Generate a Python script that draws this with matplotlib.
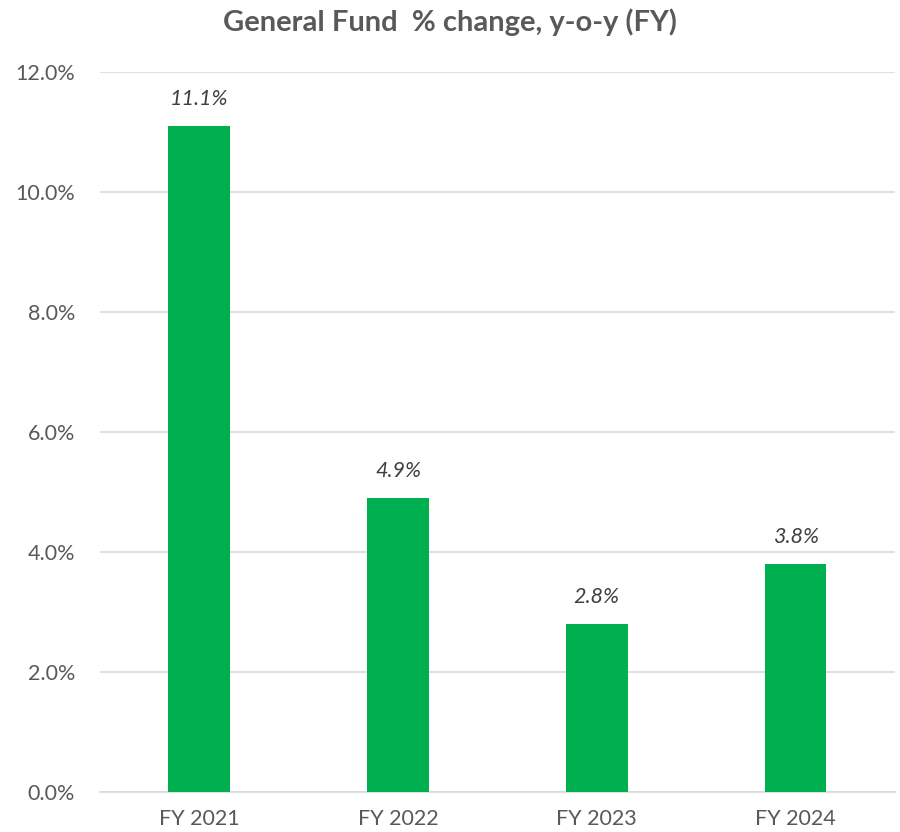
import matplotlib
matplotlib.use("Agg")
import matplotlib.pyplot as plt
from matplotlib.ticker import FuncFormatter, MultipleLocator

categories = ["FY 2021", "FY 2022", "FY 2023", "FY 2024"]
values = [11.1, 4.9, 2.8, 3.8]
labels = ["11.1%", "4.9%", "2.8%", "3.8%"]

plt.rcParams['font.family'] = ['Lato', 'DejaVu Sans']

fig = plt.figure(figsize=(9, 8.32), dpi=100)
ax = fig.add_axes([0.111, 0.0481, 0.8834, 0.8654])

x = range(len(categories))
ax.bar(x, values, width=0.31, color="#00B050", zorder=3)
for xi, v, lab in zip(x, values, labels):
    ax.text(xi, v + 0.28, lab, ha="center", va="bottom", fontsize=15.5,
            style="italic", color="#404040")

ax.set_xlim(-0.5, len(categories) - 0.5)
ax.set_ylim(0, 12)
ax.yaxis.set_major_locator(MultipleLocator(2))
ax.yaxis.set_major_formatter(FuncFormatter(lambda v, p: f"{v:.1f}%"))
ax.set_xticks(list(x))
ax.set_xticklabels(categories)
ax.grid(axis="y", color="#D9D9D9", linewidth=1.2, zorder=0)
for s in ["top", "right", "left"]:
    ax.spines[s].set_visible(False)
ax.spines["bottom"].set_color("#D9D9D9")
ax.spines["bottom"].set_linewidth(1.2)
ax.tick_params(axis="both", length=0, labelsize=15.5, labelcolor="#595959")
ax.tick_params(axis="y", pad=18)
ax.tick_params(axis="x", pad=12)

fig.text(0.5, 0.973, "General Fund  % change, y-o-y (FY)", ha="center", va="center",
         fontsize=21, fontweight="bold", color="#595959")

fig.savefig("out.png", dpi=100)
